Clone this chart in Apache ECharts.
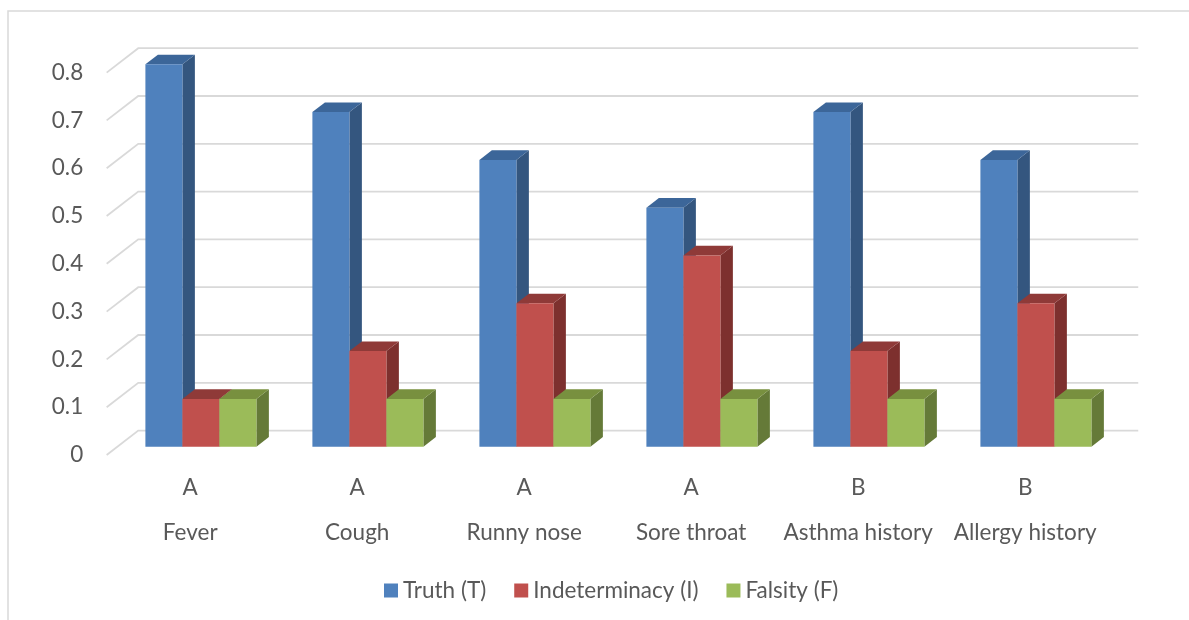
<!DOCTYPE html>
<html>
<head>
<meta charset="utf-8">
<script src="https://cdn.jsdelivr.net/npm/echarts@6/dist/echarts.min.js"></script>
<style>html,body{margin:0;padding:0;background:#fff}#c{width:1189px;height:620px}</style>
</head>
<body>
<div id="c"></div>
<script>
const categories = ['Fever', 'Cough', 'Runny nose', 'Sore throat', 'Asthma history', 'Allergy history'];
const groups = ['A', 'A', 'A', 'A', 'B', 'B'];
const truth = [0.8, 0.7, 0.6, 0.5, 0.7, 0.6];
const indeterminacy = [0.1, 0.2, 0.3, 0.4, 0.2, 0.3];
const falsity = [0.1, 0.1, 0.1, 0.1, 0.1, 0.1];
const yTicks = [0, 0.1, 0.2, 0.3, 0.4, 0.5, 0.6, 0.7, 0.8];
const seriesNames = ['Truth (T)', 'Indeterminacy (I)', 'Falsity (F)'];

const FONT = 'Lato';
const FS = 22.5;
const TXT = '#595959';
// oblique depth vector (front plane -> back plane)
const DX = 31.6, DY = -24.4;
const F_FRONT = 0.34;     // bar front face depth fraction
const F_BAR = 0.395;      // bar depth fraction
const faceCols = [
  {front: '#4F81BD', top: '#3C6699', side: '#34567F'},
  {front: '#C0504D', top: '#8F3A38', side: '#7D302E'},
  {front: '#9BBB59', top: '#78903F', side: '#657A38'}
];

function barSeries(name, values, sIdx) {
  return {
    name: name,
    type: 'custom',
    xAxisIndex: 0, yAxisIndex: 0,
    z: 3 + sIdx,
    itemStyle: {color: faceCols[sIdx].front},
    data: values.map((v, i) => [i, v]),
    encode: {x: 0, y: 1},
    renderItem: function (params, api) {
      const i = api.value(0), v = api.value(1);
      const b = api.coord([i, 0]);
      const t = api.coord([i, v]);
      const cw = api.size([1, 0])[0];
      const bw = cw * 37 / 167;
      const x = b[0] - 1.5 * bw + sIdx * bw;
      const y0 = b[1], y1 = t[1];
      const dx = DX * F_BAR, dy = DY * F_BAR;
      const c = faceCols[sIdx];
      return {
        type: 'group',
        children: [
          {type: 'polygon', shape: {points: [[x + bw, y1], [x + bw + dx, y1 + dy], [x + bw + dx, y0 + dy], [x + bw, y0]]}, style: {fill: c.side}},
          {type: 'polygon', shape: {points: [[x, y1], [x + dx, y1 + dy], [x + bw + dx, y1 + dy], [x + bw, y1]]}, style: {fill: c.top}},
          {type: 'rect', shape: {x: x, y: y1, width: bw, height: y0 - y1}, style: {fill: c.front}}
        ]
      };
    }
  };
}

const gridSeries = {
  type: 'custom',
  xAxisIndex: 0, yAxisIndex: 0,
  z: 1,
  silent: true,
  legendHoverLink: false,
  data: yTicks.map(v => [0, v]),
  encode: {x: 0, y: 1},
  renderItem: function (params, api) {
    const v = api.value(1);
    const p = api.coord([0, v]);
    const cs = params.coordSys;
    const xf = cs.x - DX * F_FRONT, yf = p[1] - DY * F_FRONT;
    const xb = cs.x + DX * (1 - F_FRONT), yb = p[1] + DY * (1 - F_FRONT);
    return {
      type: 'polyline',
      shape: {points: [[xf, yf], [xb, yb], [xb + cs.width - 2, yb]]},
      style: {stroke: '#D9D9D9', lineWidth: 1.8, fill: null}
    };
  }
};

const option = {
  animation: false,
  backgroundColor: '#fff',
  graphic: [{
    type: 'rect', silent: true, z: 0,
    shape: {x: 8, y: 11, width: 1300, height: 800},
    style: {fill: null, stroke: '#D9D9D9', lineWidth: 1.5}
  }],
  legend: {
    data: seriesNames,
    left: 379, top: 573.5,
    itemWidth: 14, itemHeight: 14, itemGap: 28,
    icon: 'rect',
    textStyle: {fontFamily: FONT, fontSize: FS, lineHeight: 24, color: TXT}
  },
  grid: [
    {left: 117.4, top: 64.3, width: 1002, height: 382.4},
    {left: 106.7, top: 72.5, width: 1002, height: 382.4}
  ],
  xAxis: [
    {type: 'category', gridIndex: 0, data: categories, show: false},
    {type: 'category', gridIndex: 1, data: groups, position: 'bottom',
      axisLine: {show: false}, axisTick: {show: false},
      axisLabel: {margin: 21.5, interval: 0, fontFamily: FONT, fontSize: FS, color: TXT}},
    {type: 'category', gridIndex: 1, data: categories, position: 'bottom',
      axisLine: {show: false}, axisTick: {show: false},
      axisLabel: {margin: 66.5, interval: 0, fontFamily: FONT, fontSize: FS, color: TXT}}
  ],
  yAxis: [
    {type: 'value', gridIndex: 0, min: 0, max: 0.8, interval: 0.1, show: false},
    {type: 'value', gridIndex: 1, min: 0, max: 0.8, interval: 0.1,
      axisLine: {show: false}, axisTick: {show: false}, splitLine: {show: false},
      axisLabel: {margin: 23.5, fontFamily: FONT, fontSize: FS, color: TXT}}
  ],
  series: [
    gridSeries,
    barSeries(seriesNames[0], truth, 0),
    barSeries(seriesNames[1], indeterminacy, 1),
    barSeries(seriesNames[2], falsity, 2)
  ]
};
const chart = echarts.init(document.getElementById('c'), null, {renderer: 'canvas'});
chart.setOption(option);
</script>
</body>
</html>
